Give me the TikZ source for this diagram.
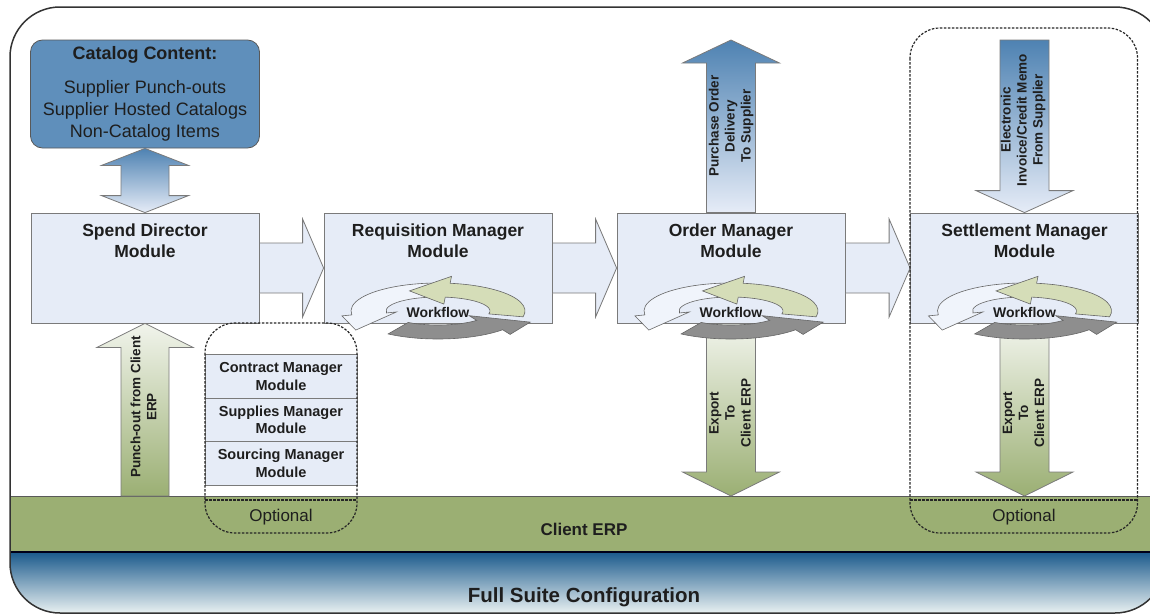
\documentclass[tikz,border=0pt]{standalone}
\usepackage{fontspec}
\setmainfont{Liberation Sans}
\usetikzlibrary{calc}
\definecolor{boxfill}{HTML}{E6ECF7}
\definecolor{boxline}{HTML}{7A7A7A}
\definecolor{catfill}{HTML}{5F8FBB}
\definecolor{steel}{HTML}{4E82B2}
\definecolor{erpgreen}{HTML}{9BAF73}
\definecolor{lightgreen}{HTML}{F1F4EC}
\definecolor{bluedark}{HTML}{1B5A8C}
\definecolor{bluemid}{HTML}{7FA8C4}
\definecolor{bluelight}{HTML}{ECF3F3}
\definecolor{wflight}{HTML}{F0F4FB}
\definecolor{wfgreen}{HTML}{D5DDB8}
\definecolor{wfgray}{HTML}{8E8E8E}
\definecolor{txt}{HTML}{1E1E1E}
% horizontal block arrow: tail, tip, shaft half width, head half width, head length
\newcommand\hapath[5]{($(#1)+(0,-#3)$) -- ($(#2)+(-#5,-#3)$) -- ($(#2)+(-#5,-#4)$) -- (#2) -- ($(#2)+(-#5,#4)$) -- ($(#2)+(-#5,#3)$) -- ($(#1)+(0,#3)$) -- cycle}
% vertical block arrow: tail, tip, shaft half width, head half width, signed head length
\newcommand\vapath[5]{($(#1)+(-#3,0)$) -- ($(#2)+(-#3,#5)$) -- ($(#2)+(-#4,#5)$) -- (#2) -- ($(#2)+(#4,#5)$) -- ($(#2)+(#3,#5)$) -- ($(#1)+(#3,0)$) -- cycle}
% vertical double arrow: top tip, bottom tip, shaft half width, head half width, head length
\newcommand\dvapath[5]{(#1) -- ($(#1)+(#4,#5)$) -- ($(#1)+(#3,#5)$) -- ($(#2)+(#3,-#5)$) -- ($(#2)+(#4,-#5)$) -- (#2) -- ($(#2)+(-#4,-#5)$) -- ($(#2)+(-#3,-#5)$) -- ($(#1)+(-#3,#5)$) -- ($(#1)+(-#4,#5)$) -- cycle}
% workflow ring segment: centre, start angle, end angle, tip angle, tip radii, fill
\newcommand\wfseg[6]{%
\filldraw[fill=#6, draw=black!60, line width=0.6pt]
 ($(#1)+(#2:87 and 28)$) arc[start angle=#2, end angle=#3, x radius=87, y radius=28]
 -- ($(#1)+(#3:97 and 35)$) -- ($(#1)+(#4:#5)$) -- ($(#1)+(#3:42 and 7)$)
 -- ($(#1)+(#3:52 and 14)$) arc[start angle=#3, end angle=#2, x radius=52, y radius=14] -- cycle;}
\begin{document}
\begin{tikzpicture}[x=1pt,y=-1pt,
  modbox/.style={draw=boxline, fill=boxfill, line width=0.8pt, minimum width=228pt, minimum height=110pt, inner sep=0pt},
  subbox/.style={draw=boxline, fill=boxfill, line width=0.8pt, minimum width=152pt, minimum height=43.5pt, inner sep=0pt, font=\fontsize{14.5}{17.5}\selectfont\bfseries, align=center, text=txt},
  modtitle/.style={font=\fontsize{17.5}{21}\selectfont\bfseries, align=center, text=txt, inner sep=0pt},
  catbox/.style={draw=black!65, fill=catfill, rounded corners=12pt, minimum width=229pt, minimum height=108pt, line width=0.8pt, inner sep=0pt},
  cattitle/.style={font=\fontsize{18}{22}\selectfont\bfseries, text=txt, inner sep=0pt},
  cattext/.style={font=\fontsize{18}{22}\selectfont, align=center, text=txt, inner sep=0pt},
  rotlabel/.style={rotate=90, font=\fontsize{13.5}{16}\selectfont\bfseries, align=center, text=txt, inner sep=0pt},
  blockh/.style={draw=boxline, fill=boxfill, line width=0.8pt},
  blockv/.style={draw=boxline, line width=0.8pt},
  optdash/.style={draw=black!85, line width=1.2pt, dash pattern=on 2.5pt off 1.5pt},
  opttext/.style={font=\fontsize{17}{20}\selectfont, text=txt, inner sep=0pt},
  wftext/.style={font=\fontsize{14}{16}\selectfont\bfseries, text=txt, inner sep=0pt}
]
\useasboundingbox (0,0) rectangle (1150,613);
\clip (0,0) rectangle (1150,613);

% bands inside the frame
\begin{scope}
  \clip[rounded corners=50pt] (10,7) rectangle (1165,613);
  \fill[erpgreen] (0,496) rectangle (1200,552);
  \shade[top color=bluedark, middle color=bluemid, bottom color=bluelight] (0,552) rectangle (1200,614);
\end{scope}
\draw[black!65, line width=0.8pt] (10,496) -- (1160,496);
\draw[black!90!blue, line width=2pt] (10,552) -- (1160,552);
\draw[black!80, line width=1.5pt, rounded corners=50pt] (10,7) rectangle (1165,613);
\coordinate (erptop) at (0,496);

% catalog box
\node[catbox] (cat) at (145,94) {};
\node[cattitle] (catt) at (145,55) {Catalog Content:};
\node[cattext] (catl) at (145,111) {Supplier Punch-outs\\Supplier Hosted Catalogs\\Non-Catalog Items};

% module boxes
\node[modbox] (sd) at (145,268) {};
\node[modbox] (rq) at (438,268) {};
\node[modbox] (om) at (731,268) {};
\node[modbox] (stm) at (1024.5,268) {};

% horizontal block arrows
\draw[blockh] \hapath{sd.east}{rq.west}{25}{49}{21};
\draw[blockh] \hapath{rq.east}{om.west}{25}{49}{21};
\draw[blockh] \hapath{om.east}{stm.west}{25}{49}{21};

% vertical arrows
\coordinate (potip) at (731,40);
\coordinate (invtail) at (1024.5,40);
\coordinate (punchtail) at (sd.south |- erptop);
\coordinate (omexp) at (om.south |- erptop);
\coordinate (stexp) at (stm.south |- erptop);
\shadedraw[blockv, top color=steel, bottom color=boxfill] \dvapath{cat.south}{sd.north}{24}{43.5}{17};
\shadedraw[blockv, top color=lightgreen, bottom color=erpgreen] \vapath{punchtail}{sd.south}{24}{48}{24};
\shadedraw[blockv, top color=steel, bottom color=boxfill] \vapath{om.north}{potip}{24.5}{48.5}{23};
\shadedraw[blockv, top color=steel, bottom color=boxfill] \vapath{invtail}{stm.north}{24.5}{48.5}{-22};
\shadedraw[blockv, top color=lightgreen, bottom color=erpgreen] \vapath{om.south}{omexp}{24.5}{48.5}{-24};
\shadedraw[blockv, top color=lightgreen, bottom color=erpgreen] \vapath{stm.south}{stexp}{24.5}{48.5}{-24};

% optional sub-modules
\node[subbox] (cm) at (281,376.5) {Contract Manager\\Module};
\node[subbox] (spm) at (281,420) {Supplies Manager\\Module};
\node[subbox] (som) at (281,463.5) {Sourcing Manager\\Module};

% workflow icons
\foreach \c in {rq,om,stm}{
  \coordinate (wf) at ($(\c.center)+(0,43)$);
  \wfseg{wf}{268}{172}{148}{97 and 36}{wflight}
  \wfseg{wf}{12}{-82}{-114}{70 and 22}{wfgreen}
  \wfseg{wf}{125}{42}{18}{97 and 36}{wfgray}
  \node[wftext] (wft-\c) at ($(wf)+(0,1)$) {Workflow};
}

% titles
\node[modtitle] (sdt) at (145,241) {Spend Director\\Module};
\node[modtitle] (rqt) at (438,241) {Requisition Manager\\Module};
\node[modtitle] (omt) at (731,241) {Order Manager\\Module};
\node[modtitle] (stt) at (1024.5,241) {Settlement Manager\\Module};

% rotated labels
\node[rotlabel] (pol) at (731,126) {Purchase Order\\Delivery\\To Supplier};
\node[rotlabel] (invl) at (1023,120) {Electronic\\Invoice/Credit Memo\\From Supplier};
\node[rotlabel] (punl) at (143.5,407) {Punch-out from Client\\ERP};
\node[rotlabel] (expl1) at (730,413) {Export\\To\\Client ERP};
\node[rotlabel] (expl2) at (1023.5,413) {Export\\To\\Client ERP};

% optional regions
\draw[optdash, rounded corners=30pt] (205,323) rectangle (357,533);
\draw[optdash] (205,500) -- (357,500);
\draw[optdash, rounded corners=30pt] (910,28) rectangle (1137.5,533);
\draw[optdash] (910,500) -- (1137.5,500);
\node[opttext] (opt1) at (281,517) {Optional};
\node[opttext] (opt2) at (1024,517) {Optional};

% band labels
\node[font=\fontsize{17}{20}\selectfont\bfseries, text=txt, inner sep=0pt] (erpt) at (584,529) {Client ERP};
\node[font=\fontsize{20.5}{24}\selectfont\bfseries, text=txt, inner sep=0pt] (fsc) at (584,597) {Full Suite Configuration};
\end{tikzpicture}
\end{document}
